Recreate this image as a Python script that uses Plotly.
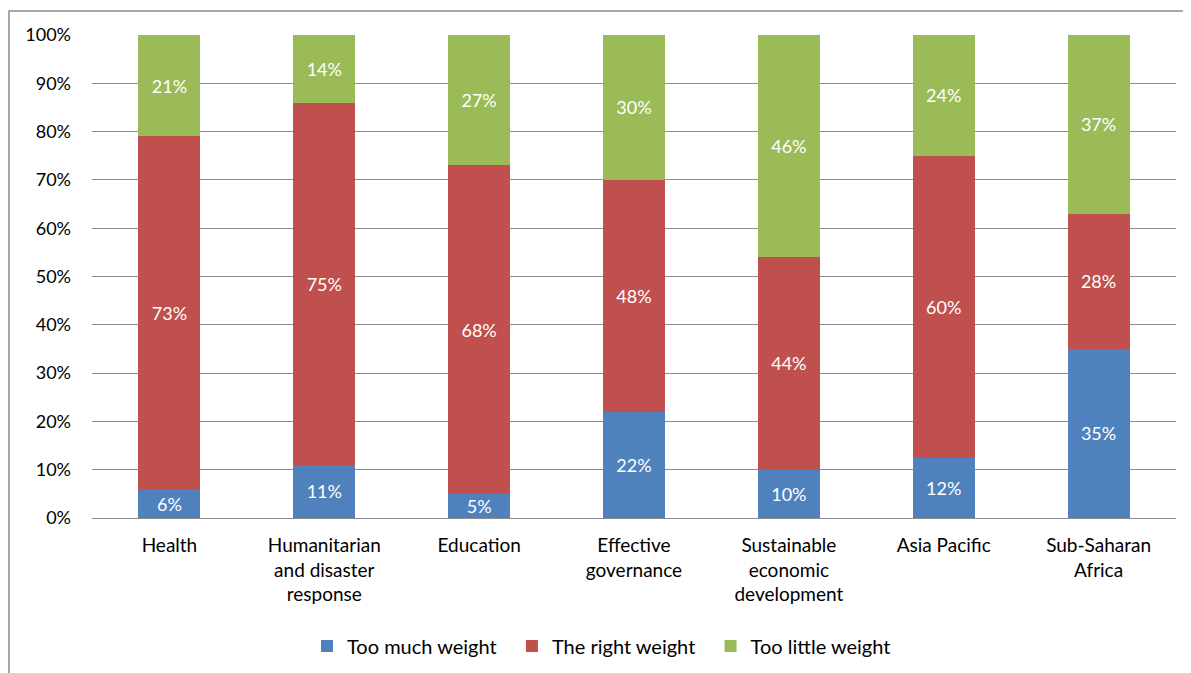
import plotly.graph_objects as go

categories = ["Health", "Humanitarian<br>and disaster<br>response", "Education",
              "Effective<br>governance", "Sustainable<br>economic<br>development",
              "Asia Pacific", "Sub-Saharan<br>Africa"]
too_much = [6, 11, 5, 22, 10, 12, 35]
right = [73, 75, 68, 48, 44, 60, 28]
too_little = [21, 14, 27, 30, 46, 24, 37]
series_names = ["Too much weight\u00a0\u00a0", "The right weight\u00a0\u00a0", "Too little weight"]
colors = ["#4F81BD", "#C0504D", "#9BBB59"]
y_ticks = list(range(0, 101, 10))

FONT = "Lato"
fig = go.Figure()
for name, vals, col in zip(series_names, [too_much, right, too_little], colors):
    fig.add_trace(go.Bar(
        x=categories, y=vals, name=name, marker=dict(color=col, line=dict(width=0)),
        text=[f"{v}%" for v in vals], textposition="inside", insidetextanchor="middle",
        textfont=dict(color="white", size=18, family=FONT), textangle=0,
        constraintext="none", hoverinfo="skip"))

fig.update_layout(
    barmode="stack", barnorm="percent", bargap=0.6,
    width=1183, height=665,
    margin=dict(l=84, r=15, t=27, b=155, autoexpand=False),
    plot_bgcolor="white", paper_bgcolor="white",
    font=dict(family=FONT, size=19, color="#000000"),
    legend=dict(orientation="h", x=0.47, xanchor="center", y=-0.265, yanchor="middle",
                font=dict(size=20, family=FONT), itemwidth=30, traceorder="normal"),
    showlegend=True,
)
fig.update_yaxes(range=[0, 100], tickvals=y_ticks, ticktext=[f"{t}%" for t in y_ticks],
                 showgrid=True, gridcolor="#8C8C8C", gridwidth=1, zeroline=False,
                 showline=False, ticks="", ticklen=0, tickfont=dict(size=18),
                 ticklabelstandoff=20, automargin=False)
fig.update_xaxes(showline=True, linecolor="#8C8C8C", linewidth=1, ticks="",
                 tickfont=dict(size=19), ticklabelstandoff=10, automargin=False)

fig.add_shape(type="rect", xref="paper", yref="paper",
              x0=-0.0766, x1=1.0129, y0=-0.35, y1=1.0497,
              line=dict(color="#8C8C8C", width=1.5), fillcolor="rgba(0,0,0,0)", layer="below")

fig.write_html("out.html")
